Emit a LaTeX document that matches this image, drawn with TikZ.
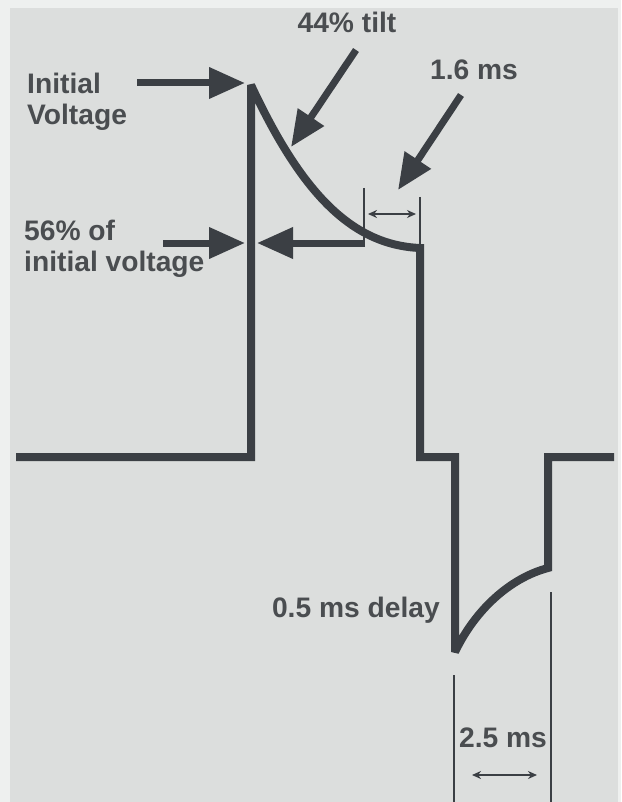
\documentclass[tikz,border=0pt]{standalone}
\usepackage{fontspec}
\setmainfont{Liberation Sans}
\usetikzlibrary{arrows.meta}
\definecolor{bg}{HTML}{DCDEDD}
\definecolor{margin}{HTML}{EEF0EF}
\definecolor{ink}{HTML}{3B3F44}
\definecolor{txt}{HTML}{4A4D50}
\tikzset{
  wave/.style={draw=ink, line width=8pt, line join=miter, miter limit=1.5, line cap=butt},
  marker/.style={draw=ink, line width=2.6pt},
  bigarrow/.style={draw=ink, line width=7pt, -{Triangle[length=36pt,width=30pt]}},
  smallarrow/.style={draw=ink, line width=2pt, {Stealth[length=9pt,width=8pt]}-{Stealth[length=9pt,width=8pt]}},
  lbl/.style={text=txt, inner sep=0pt, font=\bfseries\fontsize{28.2}{30.5}\selectfont, align=left}
}
\begin{document}
\begin{tikzpicture}[x=1pt,y=-1pt]
\useasboundingbox (0,0) rectangle (621,802);
\fill[margin] (0,0) rectangle (621,802);
\fill[bg] (10,8) rectangle (618,802);

% labels
\node[lbl, anchor=north west] (initv) at (27,73) {Initial\\Voltage};
\node[lbl, anchor=north west] (fiftysix) at (24,220) {56\% of\\initial voltage};
\node[lbl, anchor=base] (tilt) at (347,33) {44\% tilt};
\node[lbl, anchor=base] (onesix) at (474,80) {1.6 ms};
\node[lbl, anchor=base east] (delay) at (440,617) {0.5 ms delay};
\node[lbl, anchor=base] (twofive) at (503,747) {2.5 ms};

% key coordinates
\coordinate (a0) at (16,457);
\coordinate (a1) at (251,457);
\coordinate (top) at (251,85);
\coordinate (c1) at (420,248);
\coordinate (c2) at (420,457);
\coordinate (c3) at (455,457);
\coordinate (bot) at (455,652);
\coordinate (d1) at (548,568);
\coordinate (d2) at (548,457);
\coordinate (d3) at (614,457);

% waveform
\draw[wave] (a0) -- (a1) -- (top) .. controls (300,190) and (350,245) .. (c1)
  -- (c2) -- (c3) -- (bot) .. controls (475,610) and (510,578) .. (d1) -- (d2) -- (d3);

% thin markers
\coordinate (m1t) at (364,188); \coordinate (m1b) at (364,247);
\coordinate (m2t) at (420,197);
\draw[marker] (m1t) -- (m1b);
\draw[marker] (m2t) -- (c1);
\coordinate (m3t) at (454,675); \coordinate (m3b) at (454,802);
\coordinate (m4t) at (551,592); \coordinate (m4b) at (551,802);
\draw[marker] (m3t) -- (m3b);
\draw[marker] (m4t) -- (m4b);

% small double arrows
\coordinate (s1a) at (368,214); \coordinate (s1b) at (416,214);
\draw[smallarrow] (s1a) -- (s1b);
\coordinate (s2a) at (472,775); \coordinate (s2b) at (537,775);
\draw[smallarrow] (s2a) -- (s2b);

% big arrows
\coordinate (p1s) at (137,83); \coordinate (p1e) at (245,83);
\draw[bigarrow] (p1s) -- (p1e);
\coordinate (p2s) at (356,50); \coordinate (p2e) at (291,147);
\draw[bigarrow] (p2s) -- (p2e);
\coordinate (p3s) at (461,95); \coordinate (p3e) at (398,190);
\draw[bigarrow] (p3s) -- (p3e);
\coordinate (p4s) at (163,243); \coordinate (p4e) at (245,243);
\draw[bigarrow] (p4s) -- (p4e);
\coordinate (p5s) at (365,243); \coordinate (p5e) at (257,243);
\draw[bigarrow] (p5s) -- (p5e);
\end{tikzpicture}
\end{document}
